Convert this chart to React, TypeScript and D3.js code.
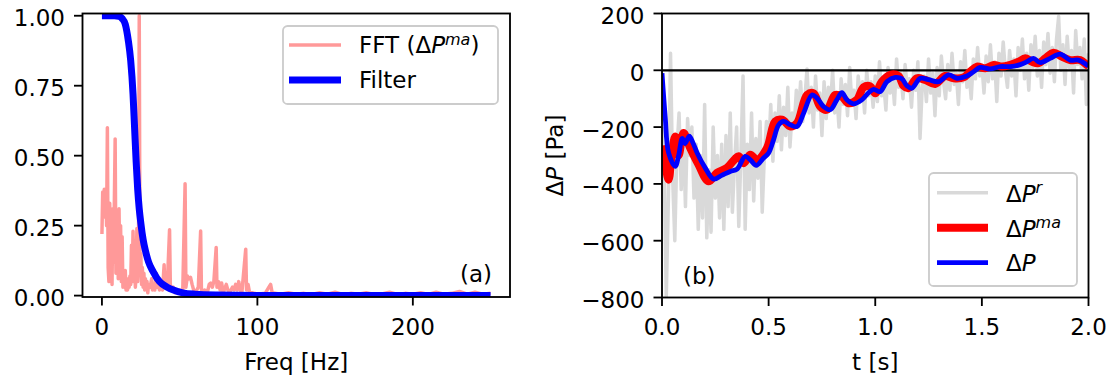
import React from "react";
import * as d3 from "d3";

// ---------- Data ----------
// Panel (a): FFT amplitude spectrum of ΔP^ma (normalised) and filter response
const FFT_FREQ = [
  0, 0.5, 1, 1.5, 2, 2.5, 3, 3.5, 4, 4.5, 5, 5.5, 6, 6.5, 7, 7.5, 8.5, 9, 9.5, 10,
  10.5, 11, 11.5, 12, 12.5, 13, 13.5, 14, 14.5, 15, 15.5, 16, 16.5, 17, 17.5, 18, 18.5, 19, 19.5, 20,
  20.5, 21, 21.5, 22, 22.5, 23, 23.5, 24, 24.5, 25, 25.5, 26, 26.5, 27, 27.5, 28, 28.5, 29, 29.5, 30,
  31, 32, 32.5, 33, 34, 35, 35.5, 36, 37, 38, 39, 40, 40.5, 41, 42, 43.5, 44, 45, 46, 47,
  48, 49, 50, 51, 52, 53.5, 54, 55, 56, 57, 58, 59, 60, 61, 62, 63.5, 64, 65, 66, 68,
  69, 70, 71, 72, 73.5, 74, 75, 76, 77, 78, 80, 81, 82, 84, 85, 86, 87, 88, 89, 90,
  92.5, 93, 94, 95, 97, 100, 105, 108.5, 109.5, 115, 120, 125, 130, 135, 140, 145, 150, 155, 160, 165,
  170, 175, 180, 185, 190, 195, 200, 205, 210, 215, 220, 225, 230, 235, 240, 245, 250,
];
const FFT_AMP = [
  0.22, 0.37, 0.28, 0.38, 0.3, 0.36, 0.25, 0.6, 0.1, 0.05, 0.33, 0.18, 0.27, 0.04, 0.31, 0.12, 0.56, 0.08, 0.22, 0.3,
  0.06, 0.31, 0.1, 0.25, 0.05, 0.21, 0.03, 0.07, 0.03, 0.09, 0.02, 0.04, 0.02, 0.06, 0.03, 0.07, 0.04, 0.18, 0.05, 0.23,
  0.1, 0.14, 0.03, 0.08, 0.24, 0.05, 0.12, 1.0, 0.08, 0.15, 0.04, 0.1, 0.03, 0.08, 0.02, 0.06, 0.03, 0.05, 0.01, 0.04,
  0.03, 0.06, 0.02, 0.04, 0.02, 0.08, 0.03, 0.05, 0.02, 0.04, 0.02, 0.11, 0.03, 0.05, 0.03, 0.235, 0.04, 0.02, 0.03, 0.01,
  0.02, 0.01, 0.02, 0.01, 0.02, 0.4, 0.03, 0.07, 0.06, 0.065, 0.04, 0.02, 0.01, 0.02, 0.03, 0.231, 0.02, 0.01, 0.02, 0.015,
  0.04, 0.045, 0.03, 0.05, 0.172, 0.03, 0.05, 0.02, 0.045, 0.01, 0.04, 0.02, 0.01, 0.03, 0.02, 0.04, 0.02, 0.05, 0.02, 0.01,
  0.166, 0.02, 0.04, 0.01, 0.01, 0.005, 0.008, 0.04, 0.01, 0.005, 0.01, 0.005, 0.008, 0.004, 0.01, 0.005, 0.012, 0.004, 0.008, 0.005,
  0.01, 0.004, 0.006, 0.012, 0.004, 0.008, 0.005, 0.01, 0.004, 0.012, 0.005, 0.008, 0.015, 0.005, 0.012, 0.005, 0.008,
];
const FILTER_FREQ = [0, 8, 11, 13, 15, 17, 18.5, 20, 21, 22, 23, 24, 25, 26.5, 28, 30, 33, 37, 42, 46, 52, 60, 75, 100, 250];
const FILTER_GAIN = [1, 1, 0.998, 0.99, 0.97, 0.91, 0.84, 0.72, 0.6, 0.48, 0.38, 0.31, 0.26, 0.2, 0.16, 0.12, 0.085, 0.05, 0.03, 0.02, 0.01, 0.005, 0.002, 0.0005, 0];
const FREQ_TICKS = [0, 100, 200];
const AMP_TICKS = [0, 0.25, 0.5, 0.75, 1.0];

// Panel (b): pressure signals
const RAW_T0 = 0;
const RAW_DT = 0.01;
const RAW_P = [
  -200, -320, -800, -450, 60, -380, -600, -280, -150, -420, -220, -480, -170, -300, -200, -450, -260, -560, -300, -520,
  -120, -590, -350, -570, -200, -450, -300, -520, -260, -560, -230, -480, -150, -500, -330, -200, -550, -300, -20, -560,
  -260, -420, -150, -460, -240, -380, -180, -500, -300, -180, -280, -120, -320, -150, -250, -90, -280, -130, -230, -60,
  -270, -150, -200, -70, -160, -40, -180, -100, 5, -150, -60, -200, -20, -140, -80, -230, -40, -170, -60, -130,
  0, -150, -90, -200, -30, -120, -50, -160, 10, -110, -70, -170, -20, -100, -40, -150, 0, -90, -40, -130,
  -20, -110, 30, -90, -50, -140, 10, -80, -20, -120, 40, -60, -10, -100, 20, -60, -30, -130, 0, -70,
  30, -240, -60, -20, -110, 40, -80, -10, -160, 10, -90, 50, -40, -100, 20, -70, 60, -50, -10, -120,
  30, -40, 70, -60, -10, -100, 40, -30, 80, -20, 20, -80, 50, -40, 90, -30, 30, -110, 60, -20,
  100, 0, -60, 70, -20, 40, -90, 80, 0, 110, -30, 60, -70, 90, 10, 120, -20, 70, -60, 100,
  20, 130, -10, 80, -40, 110, 190, 0, 90, -50, 120, 10, 70, -80, 140, 20, 80, -30, 110, -120,
  60,
];
const MA_T = [
  0, 0.015, 0.031, 0.045, 0.062, 0.078, 0.101, 0.13, 0.17, 0.218, 0.258, 0.305, 0.36, 0.383, 0.414, 0.445, 0.492, 0.531, 0.563, 0.602,
  0.633, 0.68, 0.711, 0.742, 0.773, 0.812, 0.844, 0.875, 0.914, 0.945, 0.977, 1.0, 1.031, 1.07, 1.109, 1.133, 1.156, 1.195, 1.234, 1.281,
  1.328, 1.367, 1.414, 1.445, 1.477, 1.516, 1.555, 1.594, 1.633, 1.672, 1.703, 1.735, 1.766, 1.797, 1.836, 1.875, 1.914, 1.961, 1.992, 2.0,
];
const MA_P = [
  -265, -330, -385, -300, -233, -300, -221, -270, -330, -391, -361, -343, -303, -327, -297, -315, -274, -180, -174, -198,
  -186, -87, -81, -128, -139, -87, -93, -116, -104, -60, -57, -81, -40, -16, -20, -55, -63, -28, -34, -48,
  -20, -28, -25, -5, 13, 7, 19, 13, 19, 30, 42, 30, 25, 42, 62, 48, 36, 36, 19, 15,
];
const DP_T = [
  0, 0.015, 0.031, 0.062, 0.078, 0.095, 0.108, 0.128, 0.145, 0.165, 0.2, 0.242, 0.28, 0.32, 0.352, 0.39, 0.414, 0.442, 0.476, 0.5,
  0.523, 0.547, 0.57, 0.602, 0.633, 0.664, 0.703, 0.727, 0.758, 0.789, 0.82, 0.844, 0.867, 0.898, 0.937, 0.969, 0.992, 1.023, 1.055, 1.094,
  1.125, 1.149, 1.172, 1.211, 1.25, 1.297, 1.344, 1.383, 1.43, 1.461, 1.492, 1.539, 1.586, 1.633, 1.68, 1.711, 1.742, 1.774, 1.82, 1.867,
  1.914, 1.953, 1.992, 2.0,
];
const DP_P = [
  -10, -163, -291, -338, -300, -240, -258, -232, -255, -291, -340, -383, -370, -356, -348, -303, -315, -335, -309, -291,
  -245, -192, -180, -192, -198, -151, -87, -98, -128, -139, -104, -79, -104, -118, -104, -79, -67, -75, -40, -25,
  -30, -55, -63, -28, -33, -40, -16, -28, -20, -5, 10, 5, 13, 13, 20, 30, 42, 27, 42, 57,
  36, 36, 19, 15,
];
const T_TICKS = [0, 0.5, 1.0, 1.5, 2.0];
const P_TICKS = [-800, -600, -400, -200, 0, 200];

// ---------- Layout ----------
const W = 1112;
const H = 383;
const FS = 23;
const FONT = "DejaVu Sans, sans-serif";
const SPINE = 1.84;
const TICK = 8.5;

const LA = { x0: 82.5, x1: 510, y0: 13.5, y1: 297 };
const RB = { x0: 662, x1: 1088.5, y0: 13.5, y1: 297.5 };

export default function App() {
  const fx = d3.scaleLinear().domain([-12.5, 262.5]).range([LA.x0, LA.x1]);
  const fy = d3.scaleLinear().domain([-0.005, 1.008]).range([LA.y1, LA.y0]);
  const tx = d3.scaleLinear().domain([0, 2]).range([RB.x0, RB.x1]);
  const py = d3.scaleLinear().domain([-800, 200]).range([RB.y1, RB.y0]);

  const fftLine = d3
    .line<number>()
    .x((_, i) => fx(FFT_FREQ[i]))
    .y((d) => fy(d));
  const filtLine = d3
    .line<number>()
    .x((_, i) => fx(FILTER_FREQ[i]))
    .y((d) => fy(d))
    .curve(d3.curveMonotoneX);
  const rawLine = d3
    .line<number>()
    .x((_, i) => tx(RAW_T0 + i * RAW_DT))
    .y((d) => py(d));
  const maLine = d3
    .line<number>()
    .x((_, i) => tx(MA_T[i]))
    .y((d) => py(d))
    .curve(d3.curveCatmullRom);
  const dpLine = d3
    .line<number>()
    .x((_, i) => tx(DP_T[i]))
    .y((d) => py(d))
    .curve(d3.curveCatmullRom);

  const fmt2 = d3.format(".2f");
  const fmt1 = d3.format(".1f");
  const minus = (s: string) => s.replace("-", "\u2212");

  return (
    <div style={{ position: "absolute", left: 0, top: 0, width: W, height: H, background: "#fff" }}>
      <svg width={W} height={H} viewBox={`0 0 ${W} ${H}`} fontFamily={FONT} fontSize={FS}>
        <defs>
          <clipPath id="clipA">
            <rect x={LA.x0} y={LA.y0} width={LA.x1 - LA.x0} height={LA.y1 - LA.y0} />
          </clipPath>
          <clipPath id="clipB">
            <rect x={RB.x0} y={RB.y0} width={RB.x1 - RB.x0} height={RB.y1 - RB.y0} />
          </clipPath>
        </defs>
        <rect width={W} height={H} fill="#fff" />

        {/* ---------- Panel (a) ---------- */}
        <g clipPath="url(#clipA)">
          <path d={fftLine(FFT_AMP) || ""} fill="none" stroke="red" strokeOpacity={0.4} strokeWidth={3.5} strokeLinejoin="round" />
          <path d={filtLine(FILTER_GAIN) || ""} fill="none" stroke="#0000ff" strokeWidth={7} strokeLinecap="butt" strokeLinejoin="round" />
        </g>
        <rect x={LA.x0} y={LA.y0} width={LA.x1 - LA.x0} height={LA.y1 - LA.y0} fill="none" stroke="#000" strokeWidth={SPINE} />
        {AMP_TICKS.map((v) => (
          <g key={"ay" + v}>
            <line x1={LA.x0 - TICK} x2={LA.x0} y1={fy(v)} y2={fy(v)} stroke="#000" strokeWidth={SPINE} />
            <text x={LA.x0 - TICK - 9} y={fy(v) + 10.5} textAnchor="end">
              {fmt2(v)}
            </text>
          </g>
        ))}
        {FREQ_TICKS.map((v) => (
          <g key={"ax" + v}>
            <line x1={fx(v)} x2={fx(v)} y1={LA.y1} y2={LA.y1 + TICK} stroke="#000" strokeWidth={SPINE} />
            <text x={fx(v)} y={335} textAnchor="middle">
              {v}
            </text>
          </g>
        ))}
        <text x={(LA.x0 + LA.x1) / 2} y={370} textAnchor="middle">
          Freq [Hz]
        </text>
        <text x={492} y={282} textAnchor="end">
          (a)
        </text>
        {/* legend (a) */}
        <rect x={283} y={26} width={215} height={78} rx={4.6} fill="#fff" fillOpacity={0.8} stroke="#cccccc" strokeWidth={SPINE} />
        <line x1={289} x2={341} y1={45} y2={45} stroke="red" strokeOpacity={0.4} strokeWidth={3.5} />
        <line x1={289} x2={341} y1={80} y2={80} stroke="#0000ff" strokeWidth={7} />
        <text x={359} y={53.3}>
          FFT (Δ<tspan fontStyle="italic">P</tspan>
          <tspan fontStyle="italic" fontSize={16} dy={-8}>
            ma
          </tspan>
          <tspan dy={8}>)</tspan>
        </text>
        <text x={359} y={88.3}>
          Filter
        </text>

        {/* ---------- Panel (b) ---------- */}
        <g clipPath="url(#clipB)">
          <path d={rawLine(RAW_P) || ""} fill="none" stroke="gray" strokeOpacity={0.3} strokeWidth={3.5} strokeLinejoin="round" />
          <line x1={RB.x0} x2={RB.x1} y1={py(0)} y2={py(0)} stroke="#000" strokeWidth={2.3} />
          <path d={maLine(MA_P) || ""} fill="none" stroke="red" strokeWidth={8} strokeLinejoin="round" />
          <path d={dpLine(DP_P) || ""} fill="none" stroke="#0000ff" strokeWidth={4.8} strokeLinejoin="round" />
        </g>
        <rect x={RB.x0} y={RB.y0} width={RB.x1 - RB.x0} height={RB.y1 - RB.y0} fill="none" stroke="#000" strokeWidth={SPINE} />
        {P_TICKS.map((v) => (
          <g key={"by" + v}>
            <line x1={RB.x0 - TICK} x2={RB.x0} y1={py(v)} y2={py(v)} stroke="#000" strokeWidth={SPINE} />
            <text x={RB.x0 - TICK - 9} y={py(v) + 10.5} textAnchor="end">
              {minus(String(v))}
            </text>
          </g>
        ))}
        {T_TICKS.map((v) => (
          <g key={"bx" + v}>
            <line x1={tx(v)} x2={tx(v)} y1={RB.y1} y2={RB.y1 + TICK} stroke="#000" strokeWidth={SPINE} />
            <text x={tx(v)} y={335} textAnchor="middle">
              {fmt1(v)}
            </text>
          </g>
        ))}
        <text x={(RB.x0 + RB.x1) / 2} y={370} textAnchor="middle">
          t [s]
        </text>
        <text transform={`translate(563, ${(RB.y0 + RB.y1) / 2}) rotate(-90)`} textAnchor="middle">
          Δ<tspan fontStyle="italic">P</tspan> [Pa]
        </text>
        <text x={683} y={284}>
          (b)
        </text>
        {/* legend (b) */}
        <rect x={929} y={173} width={148} height={113} rx={4.6} fill="#fff" fillOpacity={0.8} stroke="#cccccc" strokeWidth={SPINE} />
        <line x1={937} x2={988} y1={192.7} y2={192.7} stroke="gray" strokeOpacity={0.3} strokeWidth={3.5} />
        <line x1={937} x2={988} y1={227.7} y2={227.7} stroke="red" strokeWidth={8} />
        <line x1={937} x2={988} y1={262.7} y2={262.7} stroke="#0000ff" strokeWidth={4.8} />
        <text x={1006} y={201.7}>
          Δ<tspan fontStyle="italic">P</tspan>
          <tspan fontStyle="italic" fontSize={16} dy={-9}>
            r
          </tspan>
        </text>
        <text x={1006} y={236.7}>
          Δ<tspan fontStyle="italic">P</tspan>
          <tspan fontStyle="italic" fontSize={16} dy={-9}>
            ma
          </tspan>
        </text>
        <text x={1006} y={270.7}>
          Δ<tspan fontStyle="italic">P</tspan>
        </text>
      </svg>
    </div>
  );
}
